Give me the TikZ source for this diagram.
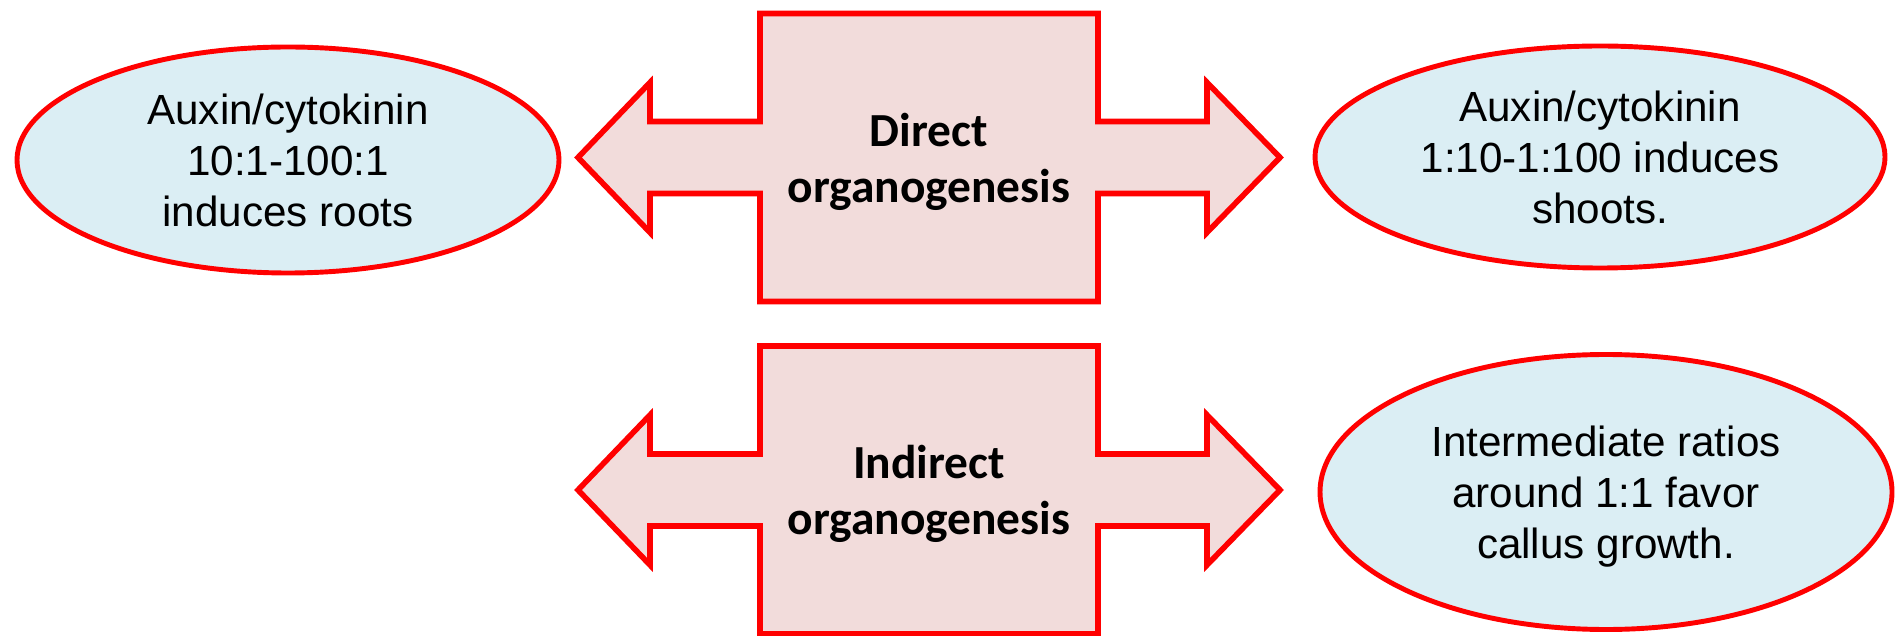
\documentclass[tikz,border=0pt]{standalone}
\usepackage{fontspec}
\setmainfont{Liberation Sans}
\newfontfamily\calibri{Carlito}
\usepackage{tikz}
\usetikzlibrary{shapes.geometric}
\definecolor{ratiored}{RGB}{255,0,0}
\definecolor{boxpink}{RGB}{242,220,219}
\definecolor{bubbleblue}{RGB}{219,238,244}
\def\organarrow(#1,#2)#3#4{%
	\draw[arrowshape] (#1-3.51,#2) -- (#1-2.79,#2+0.75) -- (#1-2.79,#2+0.36) -- (#1-1.69,#2+0.36)
		-- (#1-1.69,#2+1.44) -- (#1+1.69,#2+1.44) -- (#1+1.69,#2+0.36) -- (#1+2.78,#2+0.36)
		-- (#1+2.78,#2+0.75) -- (#1+3.51,#2) -- (#1+2.78,#2-0.75) -- (#1+2.78,#2-0.36)
		-- (#1+1.69,#2-0.36) -- (#1+1.69,#2-1.44) -- (#1-1.69,#2-1.44) -- (#1-1.69,#2-0.36)
		-- (#1-2.79,#2-0.36) -- (#1-2.79,#2-0.75) -- cycle;
	\node[organtext] (#3) at (#1,#2) {#4};}

\begin{document}
\begin{tikzpicture}[
	arrowshape/.style={draw=ratiored, line width=1.6pt, fill=boxpink},
	organtext/.style={font=\calibri\bfseries\fontsize{13.5}{16}\selectfont, align=center, text depth=0pt, inner sep=0pt},
	ratiobubble/.style={ellipse, draw=ratiored, line width=1.4pt, fill=bubbleblue, inner sep=0pt,
		font=\fontsize{12}{14.5}\selectfont, align=center, text depth=0pt}]
		%%%%% START %%%%%
		\useasboundingbox (0, 0) rectangle (19, 6.35);
		
		\organarrow(9.29,4.775){direct}{Direct\\organogenesis}
		\organarrow(9.29,1.45){indirect}{Indirect\\organogenesis}
		
		\node[ratiobubble, minimum width=5.42cm, minimum height=2.26cm] (roots) at (2.88, 4.75)
			{Auxin/cytokinin\\10:1-100:1\\induces roots};
		\node[ratiobubble, minimum width=5.70cm, minimum height=2.22cm] (shoots) at (16.00, 4.78)
			{Auxin/cytokinin\\1:10-1:100 induces\\shoots.};
		\node[ratiobubble, minimum width=5.72cm, minimum height=2.75cm] (callus) at (16.06, 1.43)
			{Intermediate ratios\\around 1:1 favor\\callus growth.};
		%%%%% END %%%%%
\end{tikzpicture}
\end{document}
